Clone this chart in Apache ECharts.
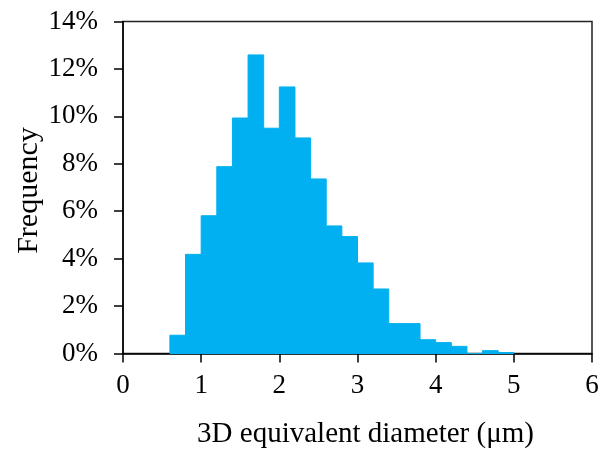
<!DOCTYPE html>
<html>
<head>
<meta charset="utf-8">
<script src="https://cdn.jsdelivr.net/npm/echarts@6/dist/echarts.min.js"></script>
<style>
html,body{margin:0;padding:0;background:#fff;}
#chart{width:598px;height:454px;}
</style>
</head>
<body>
<div id="chart"></div>
<script>
// Bin left edges (µm), bin width 0.2
const binStarts = [0.6, 0.8, 1.0, 1.2, 1.4, 1.6, 1.8, 2.0, 2.2, 2.4, 2.6, 2.8, 3.0, 3.2, 3.4, 3.6, 3.8, 4.0, 4.2, 4.4, 4.6, 4.8];
// Frequency (%)
const frequency = [0.77, 4.18, 5.81, 7.88, 9.93, 12.59, 9.50, 11.24, 9.09, 7.36, 5.38, 4.93, 3.82, 2.72, 1.26, 1.26, 0.58, 0.46, 0.30, 0, 0.12, 0.04];
const binWidth = 0.2;
const xTicks = [0, 1, 2, 3, 4, 5, 6];
const yTicks = [0, 2, 4, 6, 8, 10, 12, 14];

const chart = echarts.init(document.getElementById('chart'), null, {renderer: 'canvas'});
const FONT = 'Liberation Serif';
chart.setOption({
  animation: false,
  backgroundColor: '#fff',
  grid: {left: 123, right: 6, top: 21.5, bottom: 100.5, show: true, borderColor: '#222', borderWidth: 1.5,
         containLabel: false, outerBoundsMode: 'none'},
  xAxis: {
    type: 'value', min: xTicks[0], max: xTicks[xTicks.length - 1], interval: 1,
    name: '3D equivalent diameter (\u03bcm)', nameLocation: 'middle', nameGap: 66, nameMoveOverlap: false,
    nameTextStyle: {fontFamily: FONT, fontSize: 29, color: '#000', padding: [0, 0, 0, 16]},
    axisLine: {show: true, onZero: false, lineStyle: {color: '#000', width: 1.5}},
    axisTick: {show: true, length: 9, lineStyle: {color: '#000', width: 1.5}},
    axisLabel: {fontFamily: FONT, fontSize: 27, color: '#000', margin: 19},
    splitLine: {show: false}
  },
  yAxis: {
    type: 'value', min: yTicks[0], max: yTicks[yTicks.length - 1], interval: 2,
    name: 'Frequency', nameLocation: 'middle', nameGap: 79, nameRotate: 90, nameMoveOverlap: false,
    nameTextStyle: {fontFamily: FONT, fontSize: 30, color: '#000', padding: [0, 6, 0, 0]},
    axisLine: {show: true, lineStyle: {color: '#000', width: 1.5}},
    axisTick: {show: true, length: 9, lineStyle: {color: '#000', width: 1.5}},
    axisLabel: {fontFamily: FONT, fontSize: 27, color: '#000', margin: 25, formatter: '{value}%'},
    splitLine: {show: false}
  },
  series: [{
    type: 'custom',
    data: binStarts.map((b, i) => [b, frequency[i]]),
    renderItem: function (params, api) {
      const x0 = api.value(0), y = api.value(1);
      const pTop = api.coord([x0, y]);
      const pBot = api.coord([x0 + binWidth, 0]);
      return {
        type: 'rect',
        shape: {x: pTop[0], y: pTop[1], width: pBot[0] - pTop[0], height: pBot[1] - pTop[1]},
        style: {fill: '#00B0F0', stroke: '#00B0F0', lineWidth: 1}
      };
    }
  }]
});
</script>
</body>
</html>
